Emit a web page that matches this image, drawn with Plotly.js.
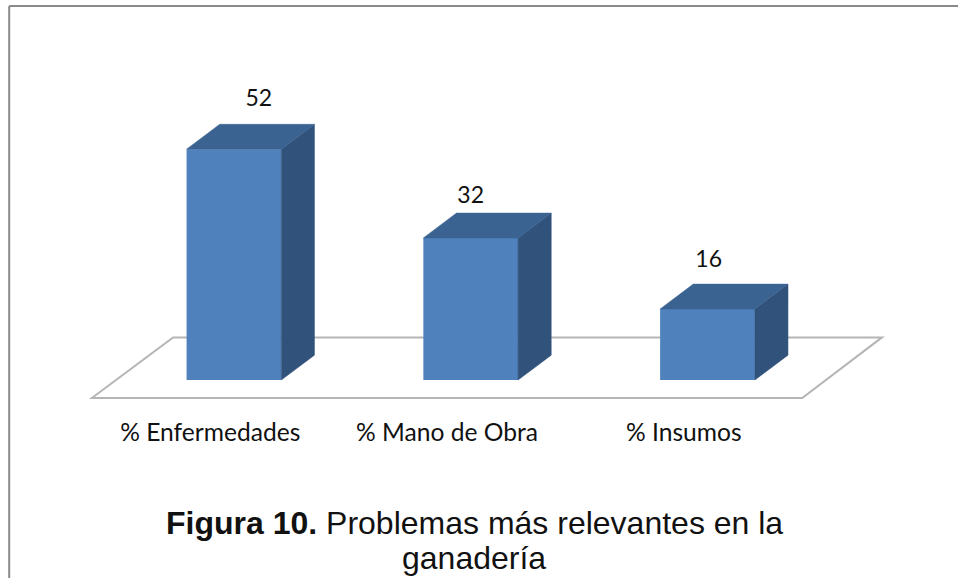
<!DOCTYPE html>
<html><head><meta charset="utf-8">
<script src="https://cdn.plot.ly/plotly-3.0.1.min.js"></script>
<style>html,body{margin:0;padding:0;background:#fff}#c{width:958px;height:578px}</style>
</head><body><div id="c"></div>
<script>
const categories = ["% Enfermedades", "% Mano de Obra", "% Insumos"];
const values = [52, 32, 16];
const positions = [0, 1, 2];
const captionLines = ["<b>Figura 10.</b> Problemas más relevantes en la", "ganadería"];
const barWidth = 0.4;
const depthX = 0.14, depthY = 5.6;
const tickShift = -0.1;
const labelShiftX = [0.105, 0, 0.005];
const labelShiftY = [11.05, 9.25, 10.75];
const frontColor = "#4f81bd", sideColor = "#31527a", topColor = "#3b6391";
const floorX = [-0.6, -0.257, 2.737, 2.4];
const floorY = [-4.05, 9.6, 9.6, -4.05];

const traces = [];
positions.forEach((p,i)=>{
  const l=p-barWidth/2,r=p+barWidth/2,v=values[i];
  traces.push({type:"scatter",mode:"lines",x:[r,r+depthX,r+depthX,r,r],y:[0,depthY,v+depthY,v,0],
    fill:"toself",fillcolor:sideColor,line:{color:sideColor,width:0.5},hoverinfo:"skip",showlegend:false});
  traces.push({type:"scatter",mode:"lines",x:[l,l+depthX,r+depthX,r,l],y:[v,v+depthY,v+depthY,v,v],
    fill:"toself",fillcolor:topColor,line:{color:topColor,width:0.5},hoverinfo:"skip",showlegend:false});
});
traces.push({type:"bar",x:positions,y:values,width:barWidth,marker:{color:frontColor,line:{width:0}},showlegend:false,hoverinfo:"x+y"});
traces.push({type:"scatter",mode:"text",x:positions.map((p,i)=>p+labelShiftX[i]),y:values.map((v,i)=>v+labelShiftY[i]),
  text:values.map(String),textposition:"middle center",textfont:{family:"Lato, Carlito, sans-serif",size:23,color:"#111"},showlegend:false,hoverinfo:"skip"});

const floorPath = floorX.map((x,i)=>(i?"L":"M")+x+" "+floorY[i]).join(" ")+" Z";
const frame = {color:"#8a8a8a",width:2};
const captionFont = {family:"Liberation Sans, Arial, sans-serif",size:32,color:"#111"};
const layout = {
  width:958,height:578,
  margin:{l:0,r:0,t:0,b:163},
  paper_bgcolor:"#fff",plot_bgcolor:"#fff",
  showlegend:false,
  xaxis:{range:[-0.988,3.058],tickvals:positions.map(p=>p+tickShift),ticktext:categories,showgrid:false,zeroline:false,showline:false,
    ticks:"",tickfont:{family:"Lato, Carlito, sans-serif",size:24.6,color:"#111"},automargin:false},
  yaxis:{range:[-7.88,85.6],visible:false,fixedrange:true},
  annotations:captionLines.map((t,i)=>({text:t,xref:"paper",yref:"paper",x:0.4953,y:1-(523+i*35)/415,
    xanchor:"center",yanchor:"middle",showarrow:false,font:captionFont})),
  shapes:[
    {type:"path",xref:"x",yref:"y",path:floorPath,layer:"below",fillcolor:"#ffffff",line:{color:"#b5b5b5",width:2}},
    {type:"line",xref:"paper",yref:"paper",x0:0.0096,x1:1,y0:0.9855,y1:0.9855,line:frame},
    {type:"line",xref:"paper",yref:"paper",x0:0.0096,x1:0.0096,y0:0.9855,y1:-0.4,line:frame}
  ]
};
Plotly.newPlot("c",traces,layout,{displayModeBar:false,staticPlot:true});
</script></body></html>
